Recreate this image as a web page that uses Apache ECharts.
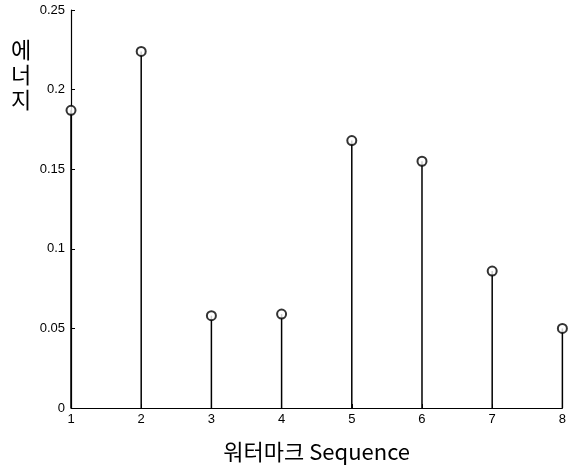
<!DOCTYPE html>
<html>
<head>
<meta charset="utf-8">
<script src="https://cdn.jsdelivr.net/npm/echarts@6/dist/echarts.min.js"></script>
<style>
html, body { margin: 0; padding: 0; background: #fff; }
#main { width: 569px; height: 472px; }
</style>
</head>
<body>
<div id="main"></div>
<script>
// 워터마크 순서와 에너지 값
var sequence = [1, 2, 3, 4, 5, 6, 7, 8]
var energy = [0.187, 0.224, 0.058, 0.059, 0.168, 0.155, 0.086, 0.050]

var points = sequence.map(function (s, i) { return [s, energy[i]] })

var myChart = echarts.init(document.getElementById('main'))
myChart.setOption({
  animation: false,
  backgroundColor: '#fff',
  title: {
    text: '에\n너\n지',
    left: 6,
    top: 32,
    textStyle: {
      fontFamily: 'Noto Sans CJK KR',
      fontSize: 22,
      fontWeight: 'normal',
      color: '#000',
      lineHeight: 25
    }
  },
  grid: {
    left: 71,
    right: 4,
    top: 10,
    bottom: 64
  },
  xAxis: {
    type: 'value',
    min: 1,
    max: 8,
    interval: 1,
    name: '워터마크 Sequence',
    nameLocation: 'middle',
    nameGap: 33,
    nameTextStyle: {
      fontFamily: 'Noto Sans CJK KR',
      fontSize: 22,
      color: '#000'
    },
    axisLine: { lineStyle: { color: '#000', width: 1.2 } },
    axisTick: { inside: true, length: 4, lineStyle: { color: '#000' } },
    axisLabel: {
      color: '#000',
      fontFamily: 'Liberation Sans',
      fontSize: 13,
      margin: 5
    },
    splitLine: { show: false }
  },
  yAxis: {
    type: 'value',
    min: 0,
    max: 0.25,
    interval: 0.05,
    axisLine: { show: true, lineStyle: { color: '#000', width: 1.2 } },
    axisTick: { show: true, inside: true, length: 4, lineStyle: { color: '#000' } },
    axisLabel: {
      color: '#000',
      fontFamily: 'Liberation Sans',
      fontSize: 13,
      margin: 6
    },
    splitLine: { show: false }
  },
  series: [
    {
      // 줄기
      type: 'custom',
      data: points,
      renderItem: function (params, api) {
        var top = api.coord([api.value(0), api.value(1)])
        var base = api.coord([api.value(0), 0])
        return {
          type: 'line',
          shape: { x1: top[0], y1: top[1], x2: base[0], y2: base[1] },
          style: { stroke: '#000', lineWidth: 1.5 }
        }
      },
      z: 2
    },
    {
      // 마커
      type: 'scatter',
      data: points,
      symbol: 'emptyCircle',
      symbolSize: 9,
      itemStyle: { color: '#000', borderColor: '#000', borderWidth: 1.5 },
      z: 3
    }
  ]
})
</script>
</body>
</html>
